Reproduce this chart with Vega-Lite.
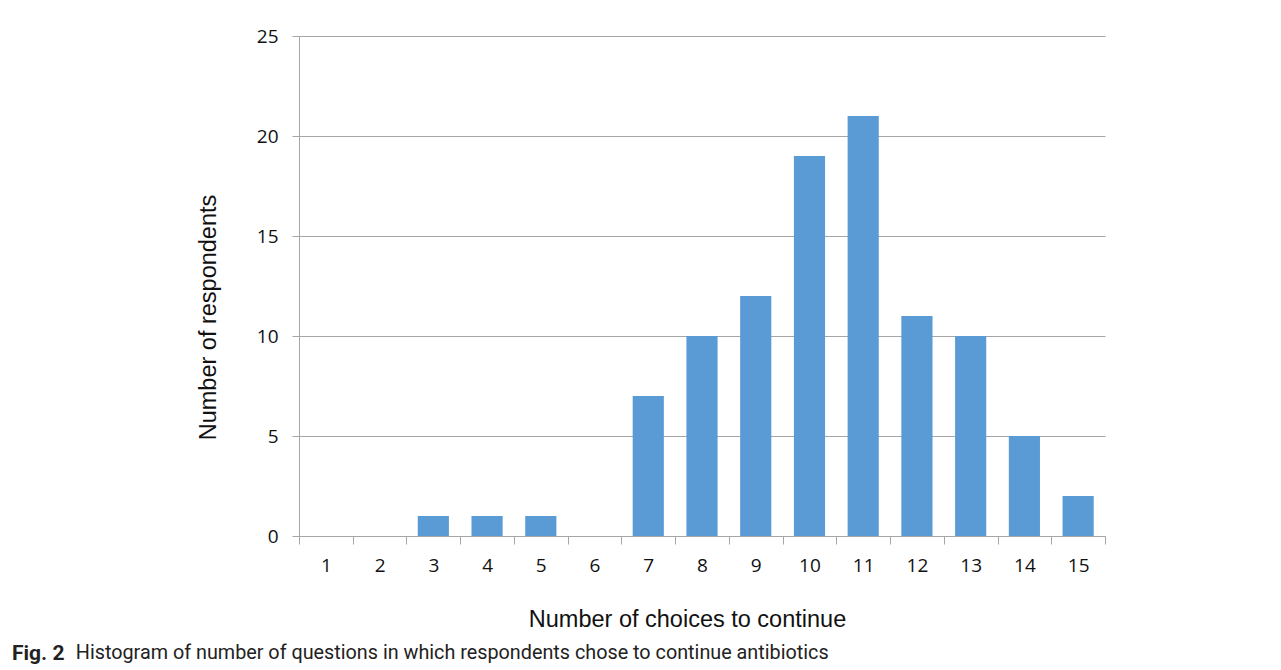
{
  "$schema": "https://vega.github.io/schema/vega-lite/v6.json",
  "autosize": "none",
  "width": 806,
  "height": 500,
  "padding": {"left": 299, "top": 36, "right": 176, "bottom": 134},
  "background": "white",
  "data": {"values": [
    {"choices": 1, "respondents": 0},
    {"choices": 2, "respondents": 0},
    {"choices": 3, "respondents": 1},
    {"choices": 4, "respondents": 1},
    {"choices": 5, "respondents": 1},
    {"choices": 6, "respondents": 0},
    {"choices": 7, "respondents": 7},
    {"choices": 8, "respondents": 10},
    {"choices": 9, "respondents": 12},
    {"choices": 10, "respondents": 19},
    {"choices": 11, "respondents": 21},
    {"choices": 12, "respondents": 11},
    {"choices": 13, "respondents": 10},
    {"choices": 14, "respondents": 5},
    {"choices": 15, "respondents": 2}
  ]},
  "title": {
    "text": "Fig. 2",
    "subtitle": "\u200b\u00a0\u00a0\u00a0\u00a0\u00a0\u00a0\u00a0\u00a0\u00a0\u00a0\u00a0\u00a0\u00a0Histogram of number of questions in which respondents chose to continue antibiotics",
    "orient": "bottom",
    "anchor": "start",
    "frame": "group",
    "dx": -287,
    "offset": 12,
    "font": "Roboto, sans-serif",
    "fontSize": 21,
    "fontWeight": "bold",
    "color": "#222222",
    "subtitleFont": "Roboto, sans-serif",
    "subtitleFontSize": 19.8,
    "subtitleFontWeight": "normal",
    "subtitleColor": "#222222",
    "subtitlePadding": -20.5
  },
  "mark": {"type": "bar", "color": "#5B9BD5", "width": {"band": 0.58}},
  "encoding": {
    "x": {
      "field": "choices",
      "type": "ordinal",
      "scale": {"paddingInner": 0, "paddingOuter": 0},
      "axis": {
        "title": "Number of choices to continue",
        "titleX": 388,
        "labelAngle": 0,
        "tickBand": "extent",
        "domainColor": "#A6A6A6",
        "tickColor": "#A6A6A6",
        "tickSize": 8,
        "labelPadding": 12,
        "labelFont": "Open Sans",
        "labelFontSize": 19,
        "labelColor": "#111111",
        "titleFont": "Liberation Sans",
        "titleFontSize": 23.5,
        "titleFontWeight": "normal",
        "titleColor": "#111111",
        "titlePadding": 32
      }
    },
    "y": {
      "field": "respondents",
      "type": "quantitative",
      "scale": {"domain": [0, 25]},
      "axis": {
        "title": "Number of respondents",
        "titleY": 281,
        "values": [0, 5, 10, 15, 20, 25],
        "grid": true,
        "gridColor": "#A6A6A6",
        "domainColor": "#A6A6A6",
        "tickColor": "#A6A6A6",
        "tickSize": 7,
        "labelPadding": 14,
        "labelFont": "Open Sans",
        "labelFontSize": 19,
        "labelColor": "#111111",
        "titleFont": "Liberation Sans",
        "titleFontSize": 23.5,
        "titleFontWeight": "normal",
        "titleColor": "#111111",
        "titlePadding": 36
      }
    }
  },
  "config": {"view": {"stroke": null}}
}
